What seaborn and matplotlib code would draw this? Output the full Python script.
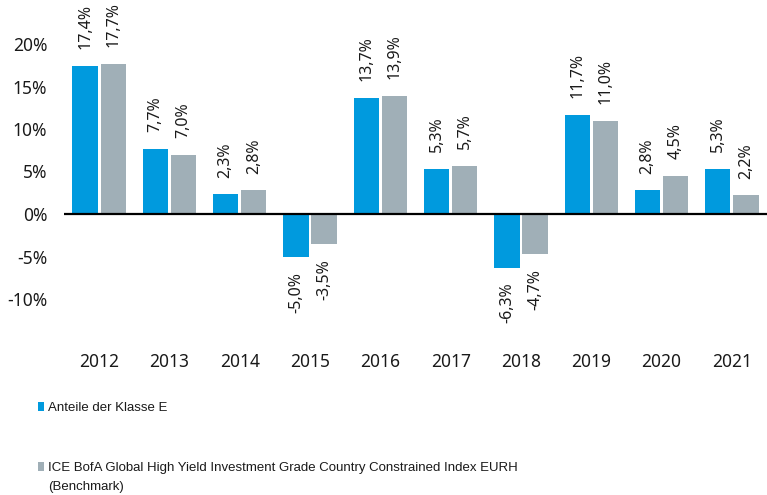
import matplotlib
matplotlib.use("Agg")
import matplotlib.pyplot as plt
import seaborn as sns
import pandas as pd
from matplotlib.patches import Patch

years = ["2012", "2013", "2014", "2015", "2016", "2017", "2018", "2019", "2020", "2021"]
fund = [17.4, 7.7, 2.3, -5.0, 13.7, 5.3, -6.3, 11.7, 2.8, 5.3]
bench = [17.7, 7.0, 2.8, -3.5, 13.9, 5.7, -4.7, 11.0, 4.5, 2.2]
series_names = ["Anteile der Klasse E",
                "ICE BofA Global High Yield Investment Grade Country Constrained Index EURH"]
bench_suffix = "(Benchmark)"
yticks = [-10, -5, 0, 5, 10, 15, 20]

colors = ["#009ADE", "#A0AFB7"]
text_color = "#1a1a1a"

sns.set_theme(style="white")
plt.rcParams["font.family"] = ["Noto Sans", "DejaVu Sans"]

df = pd.DataFrame({
    "Jahr": years * 2,
    "Wert": fund + bench,
    "Serie": [series_names[0]] * len(years) + [series_names[1]] * len(years),
})

fig = plt.figure(figsize=(7.67, 4.95), dpi=100)
ax = fig.add_axes([64 / 767, 1 - 341.5 / 495, (767 - 64) / 767, 340 / 495])

sns.barplot(data=df, x="Jahr", y="Wert", hue="Serie", palette=colors,
            width=0.8, gap=0.1, ax=ax, legend=False, errorbar=None,
            edgecolor="none", saturation=1)

ax.set_ylim(-15, 25)
ax.set_xlim(-0.5, len(years) - 0.5)
ax.set_yticks(yticks)
ax.set_yticklabels([f"{v}%" for v in yticks], fontsize=12.5, color=text_color)
ax.tick_params(axis="x", labelsize=12.5, colors=text_color, length=0, pad=8)
ax.tick_params(axis="y", length=0, pad=12)
ax.set_xlabel("")
ax.set_ylabel("")
for s in ax.spines.values():
    s.set_visible(False)
ax.axhline(0, color="black", lw=1.6, zorder=5)

for cont in ax.containers:
    for bar in cont:
        h = bar.get_height()
        xc = bar.get_x() + bar.get_width() / 2
        txt = f"{h:.1f}%".replace(".", ",")
        if h >= 0:
            ax.annotate(txt, (xc, h), xytext=(0, 12), textcoords="offset points",
                        rotation=90, ha="center", va="bottom", fontsize=11.5, color=text_color)
        else:
            ax.annotate(txt, (xc, h), xytext=(0, -11), textcoords="offset points",
                        rotation=90, ha="center", va="top", fontsize=11.5, color=text_color)

legend_font = {"family": ["Liberation Sans", "DejaVu Sans"], "size": 9.5}
handles = [Patch(facecolor=c, edgecolor="none") for c in colors]
leg = fig.legend(handles, series_names, loc="upper left",
                 bbox_to_anchor=(38 / 767, 1 - 402 / 495), frameon=False,
                 handlelength=0.47, handleheight=0.62, handletextpad=0.26,
                 labelspacing=3.65, borderaxespad=0, borderpad=0,
                 prop=legend_font)
for t in leg.get_texts():
    t.set_color(text_color)
fig.text(48 / 767, 1 - 487 / 495, bench_suffix, ha="left", va="center",
         fontsize=9.5, family=["Liberation Sans", "DejaVu Sans"], color=text_color)

fig.savefig("out.png", dpi=100)
